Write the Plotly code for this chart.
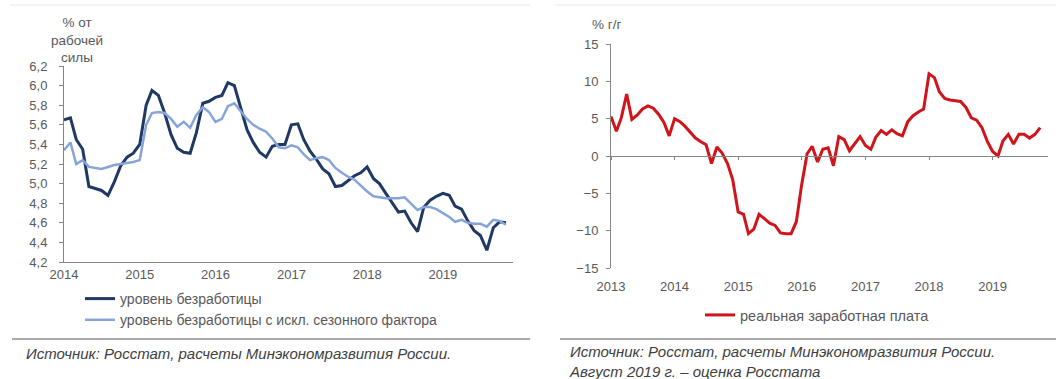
import plotly.graph_objects as go
import pandas as pd

W, H = 1056, 379

# ---------------- data ----------------
# Left chart: unemployment, monthly from Jan 2014
unemp_start = "2014-01-01"
unemployment = [5.65, 5.67, 5.45, 5.35, 4.97, 4.95, 4.93, 4.88, 5.02, 5.18, 5.27, 5.31,
                5.40, 5.80, 5.95, 5.90, 5.72, 5.50, 5.36, 5.32, 5.31, 5.52, 5.82, 5.84,
                5.88, 5.90, 6.03, 6.00, 5.78, 5.55, 5.42, 5.32, 5.27, 5.38, 5.40, 5.40,
                5.60, 5.61, 5.45, 5.33, 5.25, 5.15, 5.10, 4.97, 4.98, 5.03, 5.08, 5.11,
                5.17, 5.05, 5.00, 4.90, 4.80, 4.71, 4.72, 4.60, 4.51, 4.76, 4.83, 4.87,
                4.90, 4.88, 4.77, 4.74, 4.62, 4.52, 4.47, 4.32, 4.55, 4.61, 4.60]
unemployment_sa = [5.34, 5.42, 5.20, 5.24, 5.17, 5.16, 5.15, 5.17, 5.19, 5.20, 5.21, 5.22,
                   5.24, 5.60, 5.72, 5.73, 5.72, 5.66, 5.58, 5.63, 5.57, 5.70, 5.78, 5.73,
                   5.63, 5.66, 5.79, 5.82, 5.74, 5.66, 5.60, 5.56, 5.53, 5.46, 5.37, 5.36,
                   5.39, 5.37, 5.30, 5.24, 5.26, 5.27, 5.24, 5.16, 5.11, 5.07, 5.04, 4.98,
                   4.92, 4.87, 4.86, 4.85, 4.85, 4.85, 4.86, 4.80, 4.73, 4.76, 4.76, 4.74,
                   4.70, 4.66, 4.61, 4.63, 4.60, 4.59, 4.59, 4.56, 4.63, 4.62, 4.58]

# Right chart: real wages, % y/y, monthly from Jan 2013
wage_start = "2013-01-01"
real_wages = [5.3, 3.3, 5.1, 8.3, 4.9, 5.5, 6.3, 6.7, 6.4, 5.6, 4.5, 2.7,
              5.0, 4.6, 4.0, 3.2, 2.4, 1.9, 1.5, -1.0, 1.2, 0.4, -1.0, -3.2,
              -7.5, -7.8, -10.4, -9.8, -7.8, -8.4, -9.0, -9.3, -10.3, -10.4, -10.4, -8.8,
              -3.8, 0.3, 1.3, -0.8, 0.9, 1.1, -1.3, 2.6, 2.2, 0.7, 1.6, 2.6,
              1.4, 0.9, 2.5, 3.4, 2.9, 3.5, 3.0, 2.7, 4.6, 5.4, 5.9, 6.3,
              11.0, 10.5, 8.6, 7.7, 7.5, 7.4, 7.3, 6.5, 5.1, 4.8, 3.8, 2.0,
              0.6, 0.0, 2.0, 2.9, 1.6, 2.9, 2.9, 2.4, 2.9, 3.8]

left_y_ticks = [4.2, 4.4, 4.6, 4.8, 5.0, 5.2, 5.4, 5.6, 5.8, 6.0, 6.2]
right_y_ticks = [-15, -10, -5, 0, 5, 10, 15]

left_names = ["уровень безработицы", "уровень безработицы с искл. сезонного фактора"]
right_name = "реальная заработная плата"
left_title = "% от<br>рабочей<br>силы"
right_title = "% г/г"
source_left = "Источник: Росстат, расчеты Минэкономразвития России."
source_right = "Источник: Росстат, расчеты Минэкономразвития России.<br>Август 2019 г. – оценка Росстата"

# ---------------- figure ----------------
dates_u = pd.date_range(unemp_start, periods=len(unemployment), freq="MS")
dates_w = pd.date_range(wage_start, periods=len(real_wages), freq="MS")

FONT = "Liberation Sans, Arial, sans-serif"
TXT = "#595959"
AX = "#868686"

fig = go.Figure()
fig.add_trace(go.Scatter(x=dates_u, y=unemployment, mode="lines", name=left_names[0],
                         line=dict(color="#1f3864", width=3), xaxis="x", yaxis="y",
                         legend="legend"))
fig.add_trace(go.Scatter(x=dates_u, y=unemployment_sa, mode="lines", name=left_names[1],
                         line=dict(color="#86a3da", width=2.5), xaxis="x", yaxis="y",
                         legend="legend"))
fig.add_trace(go.Scatter(x=dates_w, y=real_wages, mode="lines", name=right_name,
                         line=dict(color="#d0141c", width=3), xaxis="x2", yaxis="y2",
                         legend="legend2"))
# invisible trace to host the zero-line axis
fig.add_trace(go.Scatter(x=[dates_w[0]], y=[0], mode="lines", showlegend=False,
                         hoverinfo="skip", line=dict(width=0), xaxis="x3", yaxis="y2"))

def px_x(v):
    return v / W

def px_y(v):
    return 1 - v / H

tickfont = dict(family=FONT, size=13, color=TXT)

fig.update_layout(
    width=W, height=H, autosize=False,
    margin=dict(l=0, r=0, t=0, b=0, pad=0, autoexpand=False),
    paper_bgcolor="white", plot_bgcolor="white",
    separators=", ",
    font=dict(family=FONT, size=13, color=TXT),
    xaxis=dict(domain=[px_x(64), px_x(513)], anchor="y", type="date",
               range=["2014-01-01", "2019-12-05"], dtick="M12", tick0="2014-01-01",
               tickformat="%Y", showline=True, linecolor=AX, linewidth=1,
               ticks="", showgrid=False, zeroline=False, tickfont=tickfont,
               automargin=False),
    yaxis=dict(domain=[px_y(262), px_y(66)], anchor="x", range=[4.2, 6.2],
               tickvals=left_y_ticks, tickformat=".1f", ticks="outside", ticklen=4,
               tickcolor=AX, showline=True, linecolor=AX, linewidth=1,
               ticklabelstandoff=9,
               showgrid=False, zeroline=False, tickfont=tickfont, automargin=False),
    xaxis2=dict(domain=[px_x(611), px_x(1048)], anchor="y2", type="date",
                range=["2013-01-01", "2019-11-15"], dtick="M12", tick0="2013-01-01",
                tickformat="%Y", showline=False, ticks="outside", ticklen=6,
                tickcolor="rgba(0,0,0,0)", showgrid=False, zeroline=False,
                tickfont=tickfont, automargin=False),
    xaxis3=dict(overlaying="x2", matches="x2", anchor="free",
                position=px_y(155.5), type="date", dtick="M12", tick0="2013-01-01",
                showline=True, linecolor=AX, linewidth=1, ticks="outside",
                ticklen=3, tickcolor=AX, showticklabels=False, showgrid=False,
                zeroline=False, automargin=False),
    yaxis2=dict(domain=[px_y(268), px_y(44)], anchor="x2", range=[-15, 15],
                tickvals=right_y_ticks, ticks="outside", ticklen=4, tickcolor=AX,
                showline=True, linecolor=AX, linewidth=1, ticklabelstandoff=5,
                showgrid=False, zeroline=False, tickfont=tickfont, automargin=False),
    legend=dict(x=px_x(80), y=px_y(283), xanchor="left", yanchor="top",
                orientation="v", bgcolor="rgba(0,0,0,0)",
                font=dict(family=FONT, size=14, color=TXT), tracegroupgap=0),
    legend2=dict(x=px_x(700), y=px_y(299), xanchor="left", yanchor="top",
                 orientation="v", bgcolor="rgba(0,0,0,0)",
                 font=dict(family=FONT, size=14.5, color=TXT)),
    showlegend=True,
)

annotations = [
    dict(text=left_title, x=px_x(77), y=px_y(40), xref="paper", yref="paper",
         xanchor="center", yanchor="middle", showarrow=False, align="center",
         font=dict(family=FONT, size=13.5, color=TXT)),
    dict(text=right_title, x=px_x(606), y=px_y(24), xref="paper", yref="paper",
         xanchor="center", yanchor="middle", showarrow=False,
         font=dict(family=FONT, size=13.5, color=TXT)),
    dict(text="<i>" + source_left + "</i>", x=px_x(24), y=px_y(353), xref="paper",
         yref="paper", xanchor="left", yanchor="middle", showarrow=False, align="left",
         font=dict(family=FONT, size=15, color="#404040")),
    dict(text="<i>" + source_right.replace("<br>", "</i><br><i>") + "</i>",
         x=px_x(567), y=px_y(361), xref="paper", yref="paper", xanchor="left",
         yanchor="middle", showarrow=False, align="left",
         font=dict(family=FONT, size=15, color="#404040")),
]
fig.update_layout(annotations=annotations)

shapes = [
    dict(type="line", xref="paper", yref="paper", x0=px_x(12), x1=px_x(530),
         y0=px_y(339), y1=px_y(339), line=dict(color="#8c8c8c", width=1.5)),
    dict(type="line", xref="paper", yref="paper", x0=px_x(560), x1=px_x(1056),
         y0=px_y(339), y1=px_y(339), line=dict(color="#8c8c8c", width=1.5)),
    dict(type="line", xref="paper", yref="paper", x0=px_x(10), x1=px_x(530),
         y0=px_y(5), y1=px_y(5), line=dict(color="#e6e6e6", width=1)),
    dict(type="line", xref="paper", yref="paper", x0=px_x(555), x1=px_x(1056),
         y0=px_y(5), y1=px_y(5), line=dict(color="#e6e6e6", width=1)),
]
fig.update_layout(shapes=shapes)

fig.write_html("out.html", config={"displayModeBar": False},
               post_script="document.body.style.margin='0';document.body.style.padding='0';")
